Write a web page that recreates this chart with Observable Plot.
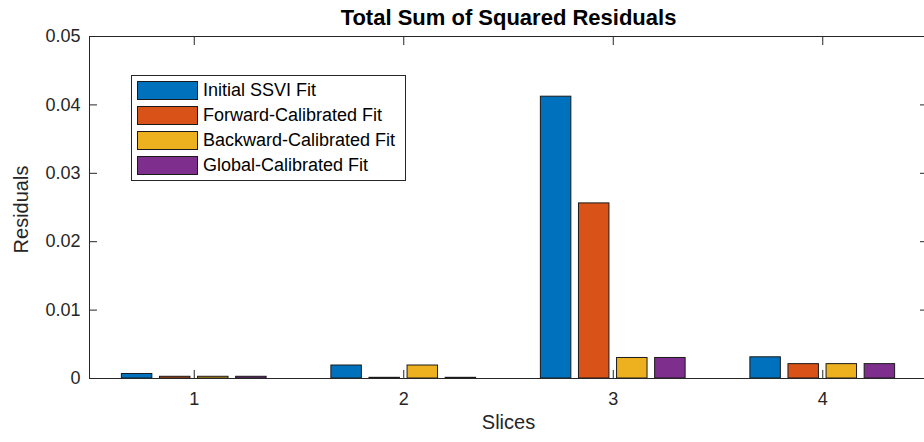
<!DOCTYPE html>
<html>
<head>
<meta charset="utf-8">
<script src="https://cdn.jsdelivr.net/npm/d3@7"></script>
<script src="https://cdn.jsdelivr.net/npm/@observablehq/plot@0.6"></script>
<style>
  body { margin: 0; background: #fff; }
  #chart { position: relative; width: 924px; height: 442px; font-family: "Liberation Sans", Arial, Helvetica, sans-serif; overflow: hidden; }
  #legend { position: absolute; left: 131px; top: 75px; width: 273px; height: 104px; border: 1px solid #262626; background: #fff; }
  #legend .row { position: absolute; left: 5px; height: 19px; display: flex; align-items: center; white-space: nowrap; }
  #legend .sw { width: 59px; height: 17px; border: 1px solid #1a1a1a; }
  #legend .lab { margin-left: 5px; font-size: 18px; color: #000; }
</style>
</head>
<body>
<div id="chart"></div>
<script>
// Sum of squared residuals per maturity slice, for each calibration approach
const slices = [1, 2, 3, 4];
const series = ["Initial SSVI Fit", "Forward-Calibrated Fit", "Backward-Calibrated Fit", "Global-Calibrated Fit"];
const colors = ["#0072BD", "#D95319", "#EDB120", "#7E2F8E"];
const initialFit = [0.00066, 0.0019, 0.0412, 0.0031];
const forwardFit = [0.00025, 0.0001, 0.0256, 0.0021];
const backwardFit = [0.00025, 0.0019, 0.0030, 0.0021];
const globalFit = [0.00025, 0.0001, 0.0030, 0.0021];
const yTicks = [0, 0.01, 0.02, 0.03, 0.04, 0.05];
const yTickLabels = ["0", "0.01", "0.02", "0.03", "0.04", "0.05"];
const xTickLabels = ["1", "2", "3", "4"];

const values = [initialFit, forwardFit, backwardFit, globalFit];

// Grouped bar layout in slice units: groups share 4/(4+1.5) of a slice, each bar 80% of its slot
const n = series.length;
const groupWidth = Math.min(0.8, n / (n + 1.5));
const slot = groupWidth / n;
const barWidth = 0.8 * slot;

const data = [];
series.forEach((s, i) => {
  slices.forEach((sl, j) => {
    const center = sl - groupWidth / 2 + slot * (i + 0.5);
    data.push({series: s, slice: sl, value: values[i][j], x1: center - barWidth / 2, x2: center + barWidth / 2});
  });
});

const ink = "#262626";
const font = "'Liberation Sans', Arial, Helvetica, sans-serif";

const chart = Plot.plot({
  width: 924,
  height: 442,
  marginLeft: 89,
  marginRight: -3,
  marginTop: 36,
  marginBottom: 64,
  style: {fontFamily: font, fontSize: "18px", color: ink, background: "#fff"},
  x: {domain: [0.5, 4.5]},
  y: {domain: [0, 0.05]},
  color: {domain: series, range: colors},
  marks: [
    Plot.rectY(data, {x1: "x1", x2: "x2", y1: 0, y2: "value", fill: "series", stroke: "#1a1a1a", strokeWidth: 1}),
    Plot.frame({stroke: ink, strokeWidth: 1}),
    Plot.axisY({anchor: "left", ticks: yTicks, tickSize: -8, tickPadding: 17, tickFormat: d => yTickLabels[yTicks.indexOf(d)], color: ink, fontSize: 18, label: null}),
    // tick marks only on the opposite sides of the box
    Plot.axisY({anchor: "right", ticks: yTicks, tickSize: -8, stroke: ink, fill: "none", text: null, label: null}),
    Plot.axisX({anchor: "bottom", ticks: slices, tickSize: -8, tickPadding: 22, tickFormat: d => xTickLabels[slices.indexOf(d)], color: ink, fontSize: 18, label: null}),
    Plot.axisX({anchor: "top", ticks: slices, tickSize: -8, stroke: ink, fill: "none", text: null, label: null}),
    Plot.text(["Total Sum of Squared Residuals"], {frameAnchor: "top", dy: -27, fontSize: 22, fontWeight: "bold", fill: "#000"}),
    Plot.text(["Residuals"], {frameAnchor: "left", textAnchor: "middle", rotate: -90, dx: -68, dy: 2, fontSize: 20, fill: ink}),
    Plot.text(["Slices"], {frameAnchor: "bottom", dy: 50, fontSize: 20, fill: ink})
  ]
});

const root = document.getElementById("chart");
root.appendChild(chart);

// Legend box in the upper left of the axes
const legend = document.createElement("div");
legend.id = "legend";
series.forEach((s, i) => {
  const row = document.createElement("div");
  row.className = "row";
  row.style.top = (5 + 25 * i) + "px";
  const sw = document.createElement("div");
  sw.className = "sw";
  sw.style.background = colors[i];
  const lab = document.createElement("span");
  lab.className = "lab";
  lab.textContent = s;
  row.appendChild(sw);
  row.appendChild(lab);
  legend.appendChild(row);
});
root.appendChild(legend);
</script>
</body>
</html>
